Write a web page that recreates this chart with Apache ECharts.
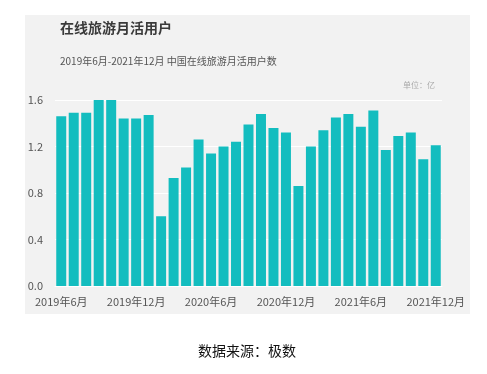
<!DOCTYPE html>
<html>
<head>
<meta charset="utf-8">
<script src="https://cdn.jsdelivr.net/npm/echarts@6/dist/echarts.min.js"></script>
<style>
html,body{margin:0;padding:0;background:#fff;}
#chart{width:487px;height:374px;}
</style>
</head>
<body>
<div id="chart"></div>
<script>
var categories = [
  '2019年6月','2019年7月','2019年8月','2019年9月','2019年10月','2019年11月','2019年12月',
  '2020年1月','2020年2月','2020年3月','2020年4月','2020年5月','2020年6月','2020年7月',
  '2020年8月','2020年9月','2020年10月','2020年11月','2020年12月','2021年1月','2021年2月',
  '2021年3月','2021年4月','2021年5月','2021年6月','2021年7月','2021年8月','2021年9月',
  '2021年10月','2021年11月','2021年12月'
];
var mau = [
  1.46, 1.49, 1.49, 1.60, 1.60, 1.44, 1.44,
  1.47, 0.60, 0.93, 1.02, 1.26, 1.14, 1.20,
  1.24, 1.39, 1.48, 1.36, 1.32, 0.86, 1.20,
  1.34, 1.45, 1.48, 1.37, 1.51, 1.17, 1.29,
  1.32, 1.09, 1.21
];
var yTicks = [0, 0.4, 0.8, 1.2, 1.6];

var chart = echarts.init(document.getElementById('chart'));
chart.setOption({
  backgroundColor: '#ffffff',
  animation: false,
  title: [
    {
      text: '在线旅游月活用户',
      left: 60, top: 21, padding: 0,
      textStyle: {fontFamily: 'Noto Sans CJK SC', fontSize: 14, fontWeight: 'bold', color: '#3a3a3a'}
    },
    {
      text: '2019年6月-2021年12月 中国在线旅游月活用户数',
      left: 60, top: 56, padding: 0,
      textStyle: {fontFamily: 'Noto Sans CJK SC', fontSize: 10, fontWeight: 'normal', color: '#555555'}
    },
    {
      text: '单位：亿',
      left: 403, top: 81, padding: 0,
      textStyle: {fontFamily: 'Noto Sans CJK SC', fontSize: 8, fontWeight: 'normal', color: '#aaaaaa'}
    },
    {
      text: '数据来源：极数',
      left: 198, top: 344, padding: 0,
      textStyle: {fontFamily: 'Noto Sans CJK SC', fontSize: 14, fontWeight: 'normal', color: '#111111'}
    }
  ],
  graphic: [{
    type: 'rect', z: -10, silent: true,
    shape: {x: 25, y: 15, width: 445, height: 299},
    style: {fill: '#f2f2f2'}
  }],
  grid: {left: 55, right: 45, top: 100, bottom: 88, containLabel: false},
  xAxis: {
    type: 'category',
    data: categories,
    axisTick: {show: false},
    axisLine: {show: true, lineStyle: {color: '#ffffff', width: 1}},
    axisLabel: {
      interval: 5, margin: 10,
      fontFamily: 'Noto Sans CJK SC', fontSize: 11, color: '#555555'
    }
  },
  yAxis: {
    type: 'value',
    min: yTicks[0], max: yTicks[yTicks.length - 1], interval: 0.4,
    axisLine: {show: false},
    axisTick: {show: false},
    splitLine: {show: true, lineStyle: {color: '#ffffff', width: 1}},
    axisLabel: {
      margin: 12,
      fontFamily: 'Noto Sans CJK SC', fontSize: 11, color: '#555555',
      formatter: function (v) { return v.toFixed(1); }
    }
  },
  series: [{
    type: 'bar',
    data: mau,
    barCategoryGap: '20%',
    itemStyle: {color: '#13bdbf'}
  }]
});
</script>
</body>
</html>
